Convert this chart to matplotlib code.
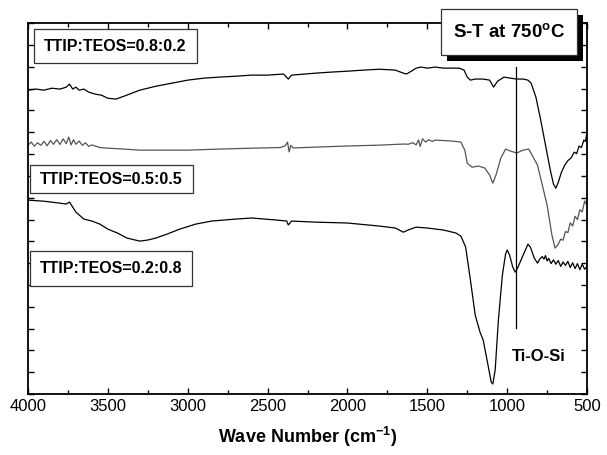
import matplotlib
matplotlib.use("Agg")
import matplotlib.pyplot as plt
from matplotlib.patches import Rectangle
from matplotlib.ticker import MultipleLocator

plt.rcParams['font.family'] = ['Liberation Sans', 'DejaVu Sans']
plt.rcParams['mathtext.fontset'] = 'custom'
plt.rcParams['mathtext.rm'] = 'Liberation Sans'
plt.rcParams['mathtext.bf'] = 'Liberation Sans:bold'

# TTIP:TEOS = 0.8:0.2 (top, black)
wn_a = [4000, 3950, 3900, 3850, 3800, 3760, 3740, 3720, 3700, 3680, 3650, 3620, 3580,
        3540, 3500, 3450, 3400, 3350, 3300, 3250, 3200, 3100, 3000, 2900, 2800, 2700,
        2600, 2500, 2400, 2370, 2350, 2200, 2100, 2000, 1900, 1800, 1700, 1650, 1630,
        1600, 1570, 1540, 1500, 1450, 1400, 1300, 1270, 1250, 1230, 1200, 1150, 1110,
        1085, 1060, 1020, 980, 940, 900, 870, 850, 820, 790, 760, 730, 710, 695, 680,
        660, 640, 620, 600, 580, 565, 550, 535, 520, 510, 500]
ab_a = [13.93, 13.98, 13.93, 14.02, 13.98, 14.07, 14.21, 13.98, 14.07, 13.93, 13.98, 13.84,
        13.75, 13.70, 13.56, 13.52, 13.65, 13.79, 13.93, 14.02, 14.11, 14.25, 14.39, 14.48,
        14.53, 14.57, 14.62, 14.62, 14.67, 14.44, 14.62, 14.71, 14.76, 14.80, 14.85, 14.89,
        14.85, 14.71, 14.67, 14.80, 14.94, 14.99, 14.94, 14.99, 14.94, 14.94, 14.85, 14.53,
        14.39, 14.44, 14.44, 14.39, 14.07, 14.34, 14.53, 14.48, 14.44, 14.44, 14.39, 14.25,
        13.61, 12.56, 11.41, 10.27, 9.62, 9.44, 9.71, 10.17, 10.49, 10.70, 10.82, 11.09,
        11.02, 11.37, 11.30, 11.64, 11.58, 12.01]

# TTIP:TEOS = 0.5:0.5 (middle, grey)
wn_b = [4000, 3980, 3960, 3940, 3920, 3900, 3880, 3860, 3840, 3820, 3800, 3780, 3760,
        3745, 3730, 3715, 3700, 3680, 3660, 3640, 3620, 3600, 3550, 3500, 3400, 3300,
        3200, 3000, 2800, 2600, 2420, 2390, 2375, 2365, 2355, 2340, 2200, 2000, 1800,
        1650, 1620, 1590, 1570, 1555, 1545, 1530, 1510, 1490, 1470, 1450, 1350, 1290,
        1265, 1250, 1220, 1180, 1140, 1110, 1090, 1070, 1040, 1010, 980, 940, 900, 865,
        840, 810, 780, 750, 720, 700, 680, 665, 650, 635, 620, 605, 590, 575, 560, 545,
        530, 515, 505, 500]
ab_b = [11.41, 11.55, 11.36, 11.52, 11.40, 11.58, 11.38, 11.62, 11.45, 11.66, 11.44, 11.70,
        11.48, 11.78, 11.42, 11.66, 11.45, 11.60, 11.40, 11.52, 11.35, 11.42, 11.30, 11.27,
        11.23, 11.18, 11.18, 11.18, 11.23, 11.27, 11.30, 11.38, 11.55, 11.10, 11.40, 11.28,
        11.32, 11.37, 11.41, 11.46, 11.45, 11.52, 11.42, 11.65, 11.35, 11.70, 11.55, 11.66,
        11.58, 11.64, 11.60, 11.55, 11.18, 10.58, 10.40, 10.45, 10.36, 10.04, 9.67, 10.04,
        10.81, 11.23, 11.14, 11.05, 11.18, 11.23, 10.90, 10.49, 9.58, 8.66, 7.29, 6.69,
        6.87, 7.10, 7.05, 7.45, 7.40, 7.85, 7.70, 8.15, 8.00, 8.45, 8.35, 8.85, 8.70, 9.05]

# TTIP:TEOS = 0.2:0.8 (bottom, black)
wn_c = [4000, 3900, 3800, 3760, 3740, 3720, 3700, 3650, 3600, 3550, 3500, 3440, 3380,
        3300, 3250, 3200, 3130, 3050, 2950, 2850, 2700, 2600, 2450, 2380, 2370, 2350,
        2200, 2000, 1800, 1700, 1650, 1620, 1570, 1500, 1400, 1320, 1290, 1260, 1230,
        1200, 1170, 1150, 1120, 1100, 1090, 1075, 1055, 1030, 1010, 1000, 985, 965, 950,
        935, 900, 870, 855, 830, 810, 795, 780, 770, 760, 750, 740, 725, 710, 695, 680,
        665, 650, 635, 620, 605, 590, 575, 560, 545, 530, 515, 500]
ab_c = [8.89, 8.84, 8.75, 8.71, 8.80, 8.57, 8.34, 8.02, 7.93, 7.79, 7.56, 7.38, 7.15,
        7.01, 7.06, 7.15, 7.33, 7.56, 7.79, 7.93, 8.02, 8.07, 7.98, 7.93, 7.75, 7.93,
        7.88, 7.84, 7.70, 7.61, 7.42, 7.52, 7.65, 7.61, 7.52, 7.38, 7.24, 6.74, 5.22,
        3.62, 2.84, 2.47, 1.33, 0.55, 0.46, 1.10, 3.39, 5.45, 6.42, 6.60, 6.37, 5.82, 5.59,
        5.77, 6.37, 6.87, 6.74, 6.23, 6.00, 6.20, 6.30, 6.18, 6.35, 6.10, 6.22, 5.98, 6.15,
        5.95, 6.12, 5.85, 6.05, 5.90, 6.08, 5.80, 6.02, 5.75, 5.98, 5.70, 5.95, 5.72, 5.85]

labels = ['TTIP:TEOS=0.8:0.2', 'TTIP:TEOS=0.5:0.5', 'TTIP:TEOS=0.2:0.8']
tio_si = 945

fig = plt.figure(figsize=(6.07, 4.55), dpi=100)
ax = fig.add_axes([0.0461, 0.134, 0.921, 0.815])

ax.plot(wn_a, ab_a, color='black', lw=0.9)
ax.plot(wn_b, ab_b, color='#555555', lw=0.9)
ax.plot(wn_c, ab_c, color='black', lw=0.9)
ax.plot([tio_si, tio_si], [3.02, 15.0], color='black', lw=0.9)

ax.set_xlim(4000, 500)
ax.set_ylim(0, 17)
ax.xaxis.set_major_locator(MultipleLocator(500))
ax.xaxis.set_minor_locator(MultipleLocator(250))
ax.yaxis.set_major_locator(MultipleLocator(1))
ax.set_yticklabels([])
ax.tick_params(which='both', direction='in', top=True, right=True, width=1)
ax.tick_params(which='major', length=4, labelsize=12)
ax.tick_params(which='minor', length=3)
for s in ax.spines.values():
    s.set_linewidth(1.3)
ax.set_xlabel('Wave Number (cm$^{\\mathbf{-1}}$)', fontsize=13, fontweight='bold', labelpad=8)

# label boxes (axes fraction)
boxes = [(0.0107, 0.892, 0.2916, 0.0916, 0.156, 0.938),
         (0.0036, 0.5418, 0.2916, 0.0755, 0.149, 0.5795),
         (0.0036, 0.291, 0.29, 0.0943, 0.148, 0.338)]
for lab, (x0, y0, w, h, tx, ty) in zip(labels, boxes):
    ax.add_patch(Rectangle((x0, y0), w, h, transform=ax.transAxes, fc='white',
                           ec='#333333', lw=0.9, zorder=5))
    ax.text(tx, ty, lab, transform=ax.transAxes, ha='center', va='center',
            fontsize=11.5, fontweight='bold', zorder=6)

# title box with shadow
ax.add_patch(Rectangle((0.7495, 0.8975), 0.2433, 0.124, transform=ax.transAxes,
                       fc='black', ec='black', lw=0, zorder=5, clip_on=False))
ax.add_patch(Rectangle((0.739, 0.9137), 0.2433, 0.124, transform=ax.transAxes,
                       fc='white', ec='#333333', lw=0.9, zorder=6, clip_on=False))
ax.text(0.8605, 0.9757, 'S-T at 750$^{\\mathbf{o}}$C', transform=ax.transAxes,
        ha='center', va='center', fontsize=13.5, fontweight='bold', zorder=7)

ax.text(0.914, 0.102, 'Ti-O-Si', transform=ax.transAxes, ha='center', va='center',
        fontsize=12, fontweight='bold')

fig.savefig('out.png', dpi=100)
